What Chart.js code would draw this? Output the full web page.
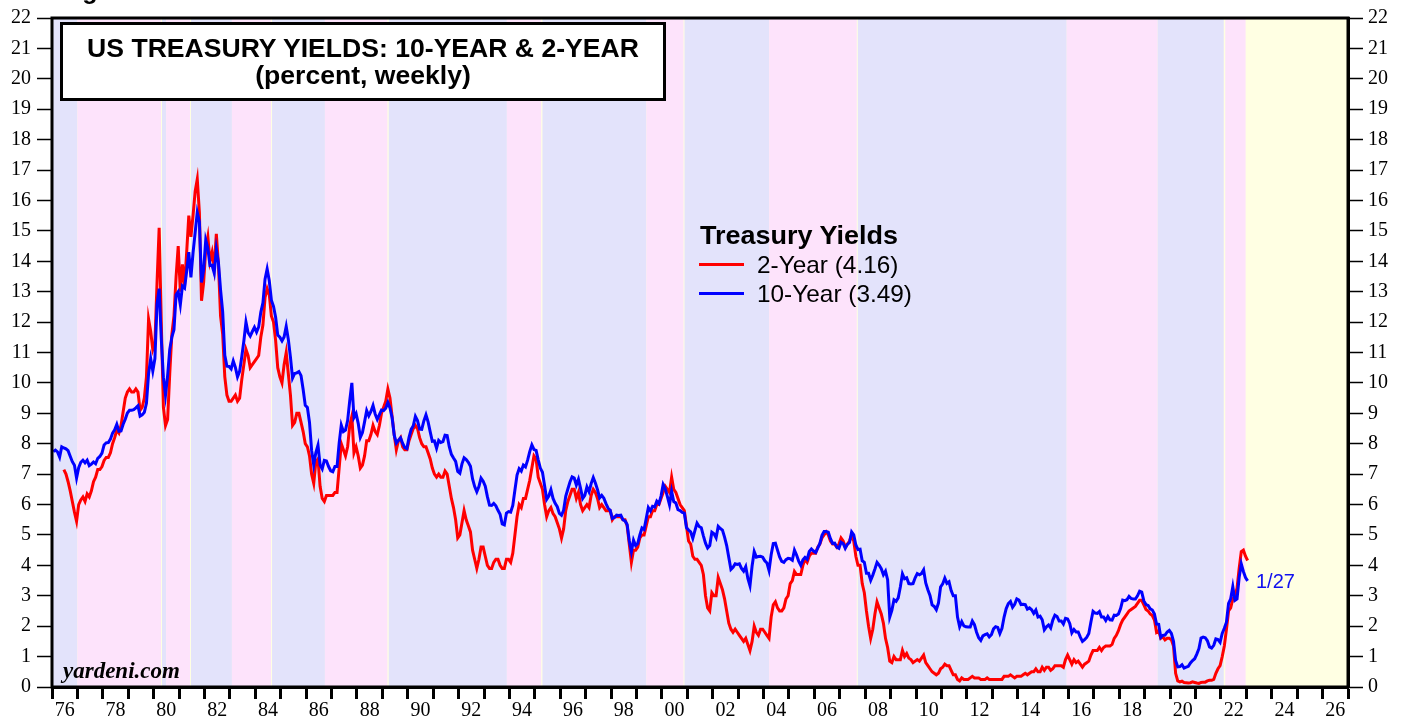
<!DOCTYPE html>
<html>
<head>
<meta charset="utf-8">
<script src="https://cdn.jsdelivr.net/npm/chart.js@4.4.1/dist/chart.umd.min.js"></script>
<style>
  html, body { margin: 0; padding: 0; background: #fff; }
  #wrap { position: relative; width: 1407px; height: 721px; overflow: hidden; }
  #chart { position: absolute; left: 0; top: 0; }
  .txt { position: absolute; white-space: nowrap; color: #000; font-family: "Liberation Sans", Arial, sans-serif; }
  #fig { left: 60px; top: -22px; font-size: 25px; line-height: 25px; font-weight: bold; }
  #titleBox { left: 60px; top: 22px; width: 600px; height: 73px; border: 3px solid #000; background: #fff;
              box-sizing: content-box; text-align: center; font-weight: bold; font-size: 25px; line-height: 27px; }
  #titleBox div { position: relative; top: 10px; transform: scaleX(1.063); transform-origin: 50% 50%; }
  #legTitle { left: 700px; top: 223px; font-size: 25px; line-height: 25px; font-weight: bold;
              transform: scaleX(1.08); transform-origin: 0 50%; }
  .legRow { left: 757px; font-size: 24px; line-height: 24px; transform: scaleX(1.016); transform-origin: 0 50%; }
  .swatch { position: absolute; left: 699px; width: 45px; height: 3px; }
  #lastDate { left: 1256px; top: 571px; font-size: 20px; line-height: 20px; color: #1010ee; }
  #brand { left: 63px; top: 659px; font-family: "Liberation Serif", "Times New Roman", serif; font-size: 23px; line-height: 23px;
           font-weight: bold; font-style: italic; }
</style>
</head>
<body>
<div id="wrap">
  <canvas id="chart" width="1407" height="721"></canvas>
  <div class="txt" id="fig">Figure 1.</div>
  <div class="txt" id="titleBox">
    <div>US TREASURY YIELDS: 10-YEAR &amp; 2-YEAR</div>
    <div>(percent, weekly)</div>
  </div>
  <div class="txt" id="legTitle">Treasury Yields</div>
  <div class="swatch" style="top:263px;background:#ff0000"></div>
  <div class="txt legRow" style="top:253px">2-Year (4.16)</div>
  <div class="swatch" style="top:292px;background:#0000ff"></div>
  <div class="txt legRow" style="top:282px">10-Year (3.49)</div>
  <div class="txt" id="lastDate">1/27</div>
  <div class="txt" id="brand">yardeni.com</div>
</div>
<script>
document.addEventListener('DOMContentLoaded', () => {
    // Monthly readings, one row per year starting 1976 (last row = Jan 2023, week of 1/27)
    const firstYear = 1976;

    const tenYear = [
        [7.74, 7.79, 7.73, 7.56, 7.90, 7.86, 7.83, 7.77, 7.59, 7.41, 7.29, 6.87],
        [7.21, 7.39, 7.46, 7.37, 7.46, 7.28, 7.33, 7.40, 7.34, 7.52, 7.58, 7.69],
        [7.96, 8.03, 8.04, 8.15, 8.35, 8.46, 8.64, 8.41, 8.42, 8.64, 8.81, 9.01],
        [9.10, 9.10, 9.12, 9.18, 9.25, 8.91, 8.95, 9.03, 9.33, 10.30, 10.80, 10.39],
        [10.80, 12.60, 13.10, 11.47, 10.18, 9.60, 10.25, 11.10, 11.51, 11.75, 12.90, 13.00],
        [12.57, 13.19, 13.12, 13.68, 14.30, 13.47, 14.28, 14.94, 15.60, 15.30, 13.30, 13.72],
        [14.70, 14.43, 13.86, 13.87, 13.62, 14.40, 13.95, 13.06, 12.34, 10.91, 10.55, 10.54],
        [10.46, 10.72, 10.51, 10.20, 10.38, 10.85, 11.38, 12.00, 11.65, 11.54, 11.69, 11.83],
        [11.67, 11.84, 12.32, 12.63, 13.41, 13.75, 13.36, 12.72, 12.52, 12.16, 11.57, 11.50],
        [11.38, 11.51, 11.86, 11.43, 10.85, 10.16, 10.31, 10.33, 10.37, 10.24, 9.78, 9.26],
        [9.19, 8.70, 7.78, 7.30, 7.71, 7.95, 7.30, 7.17, 7.45, 7.43, 7.25, 7.11],
        [7.08, 7.25, 7.25, 8.02, 8.61, 8.40, 8.45, 8.76, 9.42, 10.00, 8.86, 8.99],
        [8.67, 8.21, 8.37, 8.72, 9.09, 8.92, 9.06, 9.26, 8.98, 8.80, 8.96, 9.11],
        [9.09, 9.17, 9.36, 9.18, 8.86, 8.28, 8.02, 8.11, 8.19, 8.01, 7.87, 7.84],
        [8.21, 8.47, 8.59, 8.90, 8.76, 8.48, 8.47, 8.75, 8.95, 8.72, 8.39, 8.08],
        [8.09, 7.85, 8.11, 8.04, 8.07, 8.28, 8.27, 7.90, 7.65, 7.53, 7.42, 7.09],
        [7.03, 7.34, 7.54, 7.48, 7.39, 7.26, 6.84, 6.59, 6.42, 6.59, 6.87, 6.77],
        [6.60, 6.26, 5.98, 5.97, 6.04, 5.96, 5.81, 5.68, 5.36, 5.33, 5.72, 5.77],
        [5.75, 5.97, 6.48, 6.97, 7.18, 7.10, 7.30, 7.24, 7.46, 7.74, 7.96, 7.81],
        [7.78, 7.47, 7.20, 7.06, 6.63, 6.17, 6.28, 6.49, 6.20, 6.04, 5.93, 5.71],
        [5.65, 5.81, 6.27, 6.51, 6.74, 6.91, 6.87, 6.64, 6.83, 6.53, 6.20, 6.30],
        [6.58, 6.42, 6.69, 6.89, 6.71, 6.49, 6.22, 6.30, 6.21, 6.03, 5.88, 5.81],
        [5.54, 5.57, 5.65, 5.64, 5.65, 5.50, 5.46, 5.34, 4.81, 4.45, 4.83, 4.65],
        [4.72, 5.00, 5.23, 5.18, 5.54, 5.90, 5.79, 5.94, 5.92, 6.11, 6.03, 6.28],
        [6.66, 6.52, 6.26, 5.99, 6.44, 6.10, 6.05, 5.83, 5.80, 5.74, 5.72, 5.24],
        [5.16, 5.10, 4.89, 5.14, 5.39, 5.28, 5.24, 4.97, 4.73, 4.57, 4.65, 5.09],
        [5.04, 4.91, 5.28, 5.21, 5.16, 4.93, 4.65, 4.26, 3.87, 3.94, 4.05, 4.03],
        [4.05, 3.90, 3.81, 3.96, 3.57, 3.33, 3.98, 4.45, 4.27, 4.29, 4.30, 4.27],
        [4.15, 4.08, 3.83, 4.35, 4.72, 4.73, 4.50, 4.28, 4.13, 4.10, 4.19, 4.23],
        [4.22, 4.17, 4.50, 4.34, 4.14, 4.00, 4.18, 4.26, 4.20, 4.46, 4.54, 4.47],
        [4.42, 4.57, 4.72, 4.99, 5.11, 5.11, 5.09, 4.88, 4.72, 4.73, 4.60, 4.56],
        [4.76, 4.72, 4.56, 4.69, 4.75, 5.10, 5.00, 4.67, 4.52, 4.53, 4.15, 4.10],
        [3.74, 3.74, 3.51, 3.68, 3.88, 4.10, 4.01, 3.89, 3.69, 3.81, 3.53, 2.30],
        [2.52, 2.87, 2.82, 2.93, 3.29, 3.72, 3.56, 3.59, 3.40, 3.39, 3.40, 3.59],
        [3.73, 3.69, 3.73, 3.85, 3.42, 3.20, 3.01, 2.70, 2.65, 2.54, 2.76, 3.29],
        [3.39, 3.58, 3.41, 3.46, 3.17, 3.00, 3.00, 2.30, 1.98, 2.15, 2.01, 1.98],
        [1.97, 1.97, 2.17, 2.05, 1.80, 1.62, 1.53, 1.68, 1.72, 1.75, 1.65, 1.72],
        [1.91, 1.98, 1.96, 1.76, 1.93, 2.30, 2.58, 2.74, 2.81, 2.62, 2.72, 2.90],
        [2.86, 2.71, 2.72, 2.71, 2.56, 2.60, 2.54, 2.42, 2.53, 2.30, 2.33, 2.21],
        [1.88, 1.98, 2.04, 1.94, 2.20, 2.36, 2.32, 2.17, 2.17, 2.07, 2.26, 2.24],
        [2.09, 1.78, 1.89, 1.81, 1.81, 1.64, 1.50, 1.56, 1.63, 1.76, 2.14, 2.49],
        [2.43, 2.42, 2.48, 2.30, 2.30, 2.19, 2.32, 2.21, 2.20, 2.36, 2.35, 2.40],
        [2.58, 2.86, 2.84, 2.87, 2.98, 2.91, 2.89, 2.89, 3.00, 3.15, 3.12, 2.83],
        [2.71, 2.68, 2.57, 2.53, 2.40, 2.07, 2.06, 1.63, 1.70, 1.71, 1.81, 1.86],
        [1.76, 1.50, 0.87, 0.66, 0.67, 0.73, 0.62, 0.65, 0.68, 0.79, 0.87, 0.93],
        [1.08, 1.26, 1.61, 1.64, 1.62, 1.52, 1.32, 1.28, 1.37, 1.58, 1.56, 1.47],
        [1.76, 1.93, 2.13, 2.75, 2.90, 3.30, 2.85, 2.90, 3.60, 4.05, 3.80, 3.60],
        [3.49]
    ];

    const twoYear = [
        [null, null, null, null, null, 7.15, 7.00, 6.75, 6.45, 6.10, 5.75, 5.45],
        [6.00, 6.15, 6.25, 6.10, 6.35, 6.25, 6.45, 6.75, 6.90, 7.15, 7.15, 7.25],
        [7.45, 7.55, 7.55, 7.70, 8.00, 8.20, 8.45, 8.35, 8.60, 9.05, 9.50, 9.70],
        [9.80, 9.70, 9.70, 9.80, 9.70, 9.10, 9.20, 9.50, 10.20, 12.10, 11.70, 11.10],
        [11.30, 13.30, 15.10, 12.00, 9.20, 8.60, 8.80, 10.30, 11.60, 12.20, 13.50, 14.50],
        [13.00, 13.90, 13.20, 14.30, 15.50, 14.80, 15.50, 16.30, 16.70, 15.60, 12.70, 13.30],
        [14.40, 14.80, 14.00, 14.30, 13.80, 14.90, 13.90, 12.20, 11.60, 10.20, 9.60, 9.40],
        [9.40, 9.50, 9.60, 9.40, 9.50, 10.10, 10.60, 11.10, 10.90, 10.50, 10.60, 10.70],
        [10.80, 10.90, 11.50, 11.90, 12.80, 13.10, 12.90, 12.20, 12.00, 11.40, 10.50, 10.20],
        [10.00, 10.60, 11.00, 10.30, 9.60, 8.60, 8.70, 9.00, 9.00, 8.70, 8.40, 8.00],
        [7.90, 7.60, 7.00, 6.70, 7.40, 7.50, 6.60, 6.20, 6.10, 6.30, 6.30, 6.30],
        [6.30, 6.40, 6.40, 7.20, 8.00, 7.80, 7.60, 7.90, 8.60, 8.90, 7.70, 7.90],
        [7.60, 7.20, 7.30, 7.60, 8.10, 8.10, 8.30, 8.60, 8.40, 8.30, 8.60, 9.00],
        [9.20, 9.40, 9.80, 9.50, 8.90, 8.30, 7.80, 8.10, 8.20, 7.90, 7.80, 7.80],
        [8.10, 8.30, 8.50, 8.60, 8.50, 8.20, 8.00, 7.90, 7.90, 7.70, 7.50, 7.20],
        [7.00, 6.90, 7.00, 6.90, 6.90, 7.10, 7.00, 6.60, 6.20, 5.90, 5.50, 4.90],
        [5.00, 5.40, 5.80, 5.50, 5.30, 5.10, 4.50, 4.20, 3.90, 4.20, 4.60, 4.60],
        [4.30, 4.00, 3.90, 3.90, 4.10, 4.20, 4.20, 4.00, 3.90, 3.90, 4.20, 4.20],
        [4.10, 4.40, 5.00, 5.60, 6.00, 5.90, 6.20, 6.20, 6.50, 6.80, 7.20, 7.60],
        [7.50, 6.90, 6.70, 6.50, 6.00, 5.60, 5.80, 5.90, 5.70, 5.60, 5.40, 5.20],
        [4.90, 5.20, 5.80, 6.10, 6.30, 6.50, 6.50, 6.20, 6.40, 6.00, 5.80, 5.90],
        [6.00, 5.90, 6.30, 6.50, 6.40, 6.20, 5.90, 6.00, 5.90, 5.80, 5.80, 5.80],
        [5.50, 5.60, 5.60, 5.60, 5.60, 5.50, 5.50, 5.30, 4.70, 4.10, 4.50, 4.50],
        [4.60, 4.90, 5.00, 5.00, 5.30, 5.60, 5.60, 5.80, 5.80, 6.00, 6.00, 6.20],
        [6.40, 6.60, 6.50, 6.40, 6.90, 6.50, 6.40, 6.20, 6.00, 5.90, 5.80, 5.30],
        [4.80, 4.70, 4.30, 4.20, 4.20, 4.10, 4.00, 3.70, 3.00, 2.60, 2.50, 3.10],
        [3.00, 3.00, 3.60, 3.40, 3.20, 2.90, 2.50, 2.10, 1.90, 1.80, 1.90, 1.80],
        [1.70, 1.60, 1.50, 1.60, 1.40, 1.20, 1.50, 2.00, 1.80, 1.70, 1.90, 1.90],
        [1.80, 1.70, 1.60, 2.30, 2.70, 2.80, 2.60, 2.50, 2.50, 2.60, 2.90, 3.00],
        [3.40, 3.50, 3.80, 3.70, 3.70, 3.70, 4.00, 4.20, 4.10, 4.30, 4.40, 4.40],
        [4.40, 4.60, 4.70, 4.90, 5.00, 5.10, 5.00, 4.80, 4.70, 4.70, 4.60, 4.70],
        [4.90, 4.80, 4.60, 4.70, 4.80, 5.00, 4.80, 4.30, 4.00, 4.00, 3.40, 3.10],
        [2.50, 2.00, 1.60, 1.90, 2.40, 2.80, 2.60, 2.40, 2.10, 1.60, 1.30, 0.85],
        [0.80, 1.00, 0.90, 0.90, 0.90, 1.20, 1.00, 1.10, 0.95, 0.90, 0.80, 0.85],
        [0.90, 0.85, 0.95, 1.05, 0.80, 0.70, 0.60, 0.50, 0.45, 0.40, 0.45, 0.60],
        [0.65, 0.75, 0.70, 0.70, 0.55, 0.40, 0.40, 0.25, 0.20, 0.30, 0.25, 0.25],
        [0.25, 0.30, 0.35, 0.30, 0.30, 0.30, 0.25, 0.25, 0.25, 0.30, 0.25, 0.25],
        [0.25, 0.25, 0.25, 0.25, 0.25, 0.35, 0.35, 0.35, 0.40, 0.35, 0.30, 0.35],
        [0.35, 0.35, 0.40, 0.45, 0.40, 0.45, 0.50, 0.50, 0.60, 0.50, 0.50, 0.65],
        [0.55, 0.65, 0.65, 0.55, 0.60, 0.70, 0.70, 0.70, 0.70, 0.65, 0.90, 1.05],
        [0.90, 0.75, 0.90, 0.80, 0.85, 0.75, 0.65, 0.75, 0.80, 0.85, 1.05, 1.20],
        [1.20, 1.20, 1.30, 1.20, 1.30, 1.35, 1.35, 1.35, 1.40, 1.60, 1.70, 1.85],
        [2.05, 2.20, 2.30, 2.40, 2.50, 2.55, 2.60, 2.65, 2.75, 2.85, 2.85, 2.70],
        [2.55, 2.50, 2.40, 2.35, 2.20, 1.80, 1.85, 1.60, 1.65, 1.55, 1.60, 1.60],
        [1.55, 1.35, 0.45, 0.20, 0.17, 0.19, 0.15, 0.14, 0.13, 0.14, 0.17, 0.15],
        [0.13, 0.12, 0.15, 0.16, 0.16, 0.20, 0.22, 0.22, 0.25, 0.45, 0.60, 0.70],
        [1.00, 1.35, 1.90, 2.50, 2.60, 2.90, 3.00, 3.25, 3.90, 4.45, 4.50, 4.30],
        [4.16]
    ];

    // Fed policy cycles shown as background shading (decimal years)
    const easingCycles = [
        [1976.0, 1977.0], [1980.33, 1980.49], [1981.47, 1983.08], [1984.66, 1986.74],
        [1989.25, 1993.9], [1995.3, 1999.39], [2000.89, 2004.22], [2007.71, 2015.93],
        [2019.5, 2022.11]
    ];
    const tighteningCycles = [
        [1977.0, 1980.29], [1980.49, 1981.43], [1983.08, 1984.62], [1986.74, 1989.2],
        [1993.9, 1995.25], [1999.39, 2000.85], [2004.22, 2007.67], [2015.93, 2019.5],
        [2022.17, 2022.97]
    ];

    const xMin = 1976, xMax = 2027;
    const yTicks = [];
    for (let v = 0; v <= 22; v++) yTicks.push(v);
    const yearTicks = [];
    for (let y = xMin; y <= xMax; y++) yearTicks.push(y);

    const toPoints = rows => {
        const pts = [];
        rows.forEach((row, r) => {
            row.forEach((v, m) => {
                pts.push({ x: firstYear + r + m / 12 + 0.05, y: v });
            });
        });
        return pts;
    };

    const backdrop = {
        id: 'backdrop',
        beforeDatasetsDraw(chart) {
            const { ctx, chartArea: a, scales: { x } } = chart;
            ctx.save();
            ctx.fillStyle = '#ffffe3';
            ctx.fillRect(a.left, a.top, a.right - a.left, a.bottom - a.top);
            const band = (list, color) => {
                ctx.fillStyle = color;
                list.forEach(([s, e]) => {
                    const x0 = x.getPixelForValue(s), x1 = x.getPixelForValue(e);
                    ctx.fillRect(x0, a.top, x1 - x0, a.bottom - a.top);
                });
            };
            band(easingCycles, '#e3e3fb');
            band(tighteningCycles, '#fde3fb');
            ctx.restore();
        },
        afterDraw(chart) {
            const { ctx, chartArea: a } = chart;
            ctx.save();
            ctx.strokeStyle = '#000';
            ctx.lineWidth = 3;
            ctx.strokeRect(a.left, a.top, a.right - a.left, a.bottom - a.top);
            ctx.restore();
        }
    };

    const serif = { family: '"Liberation Serif", "Times New Roman", serif', size: 20 };

    const yAxis = (pos, width) => ({
        position: pos,
        min: 0, max: 22,
        afterBuildTicks: axis => { axis.ticks = yTicks.map(v => ({ value: v })); },
        afterFit: s => { s.width = width; },
        ticks: { color: '#000', font: serif, padding: pos === 'left' ? 6 : 5 },
        grid: { drawOnChartArea: false, drawTicks: true, tickLength: 15, tickColor: '#000', tickWidth: 1.5 },
        border: { display: true, color: '#000', width: 3 }
    });

    const ctx = document.getElementById('chart').getContext('2d');
    new Chart(ctx, {
        type: 'line',
        data: {
            datasets: [
                {
                    label: '10-Year',
                    data: toPoints(tenYear),
                    borderColor: '#0000ff',
                    borderWidth: 3
                },
                {
                    label: '2-Year',
                    data: toPoints(twoYear),
                    borderColor: '#ff0000',
                    borderWidth: 3
                }
            ]
        },
        options: {
            responsive: false,
            animation: false,
            parsing: false,
            layout: { padding: { top: 15 } },
            elements: { point: { radius: 0 }, line: { tension: 0 } },
            plugins: { legend: { display: false }, tooltip: { enabled: false } },
            scales: {
                x: {
                    type: 'linear',
                    min: xMin, max: xMax,
                    afterBuildTicks: axis => { axis.ticks = yearTicks.map(v => ({ value: v })); },
                    afterFit: s => { s.height = 34; },
                    ticks: {
                        autoSkip: false, maxRotation: 0, minRotation: 0,
                        labelOffset: 12.7, padding: 0,
                        color: '#000', font: serif,
                        callback: v => (v % 2 === 0 && v < xMax) ? String(v).slice(2) : ''
                    },
                    grid: { drawOnChartArea: false, drawTicks: true, tickLength: 12, tickColor: '#000', tickWidth: 3 },
                    border: { display: true, color: '#000', width: 3 }
                },
                y: yAxis('left', 52),
                y2: yAxis('right', 59)
            }
        },
        plugins: [backdrop]
    });
});
</script>
</body>
</html>
